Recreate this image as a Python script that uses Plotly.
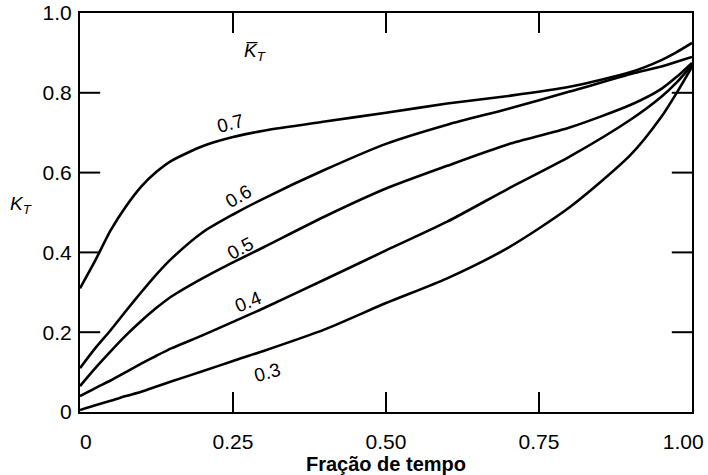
import plotly.graph_objects as go

# Fraction of time (abscissa) shared by every curve
fracao = [0, 0.025, 0.05, 0.075, 0.1, 0.125, 0.15, 0.2, 0.25, 0.3, 0.4, 0.5, 0.6, 0.7,
          0.8, 0.9, 0.95, 0.975, 1.0]

# Daily clearness index K_T for each monthly mean value of K̄_T
kt_07 = [0.31, 0.38, 0.455, 0.515, 0.565, 0.602, 0.63, 0.666, 0.689, 0.705, 0.728, 0.75,
         0.773, 0.792, 0.815, 0.852, 0.882, 0.902, 0.925]
kt_06 = [0.11, 0.16, 0.205, 0.253, 0.30, 0.345, 0.385, 0.45, 0.495, 0.535, 0.607, 0.672,
         0.72, 0.76, 0.803, 0.847, 0.866, 0.878, 0.89]
kt_05 = [0.065, 0.11, 0.152, 0.192, 0.228, 0.261, 0.29, 0.335, 0.375, 0.413, 0.49, 0.56,
         0.617, 0.671, 0.713, 0.77, 0.81, 0.84, 0.875]
kt_04 = [0.04, 0.06, 0.079, 0.10, 0.121, 0.141, 0.16, 0.192, 0.226, 0.26, 0.332, 0.405,
         0.477, 0.56, 0.64, 0.733, 0.79, 0.826, 0.87]
kt_03 = [0.005, 0.017, 0.028, 0.04, 0.051, 0.064, 0.077, 0.102, 0.128, 0.153, 0.207, 0.273,
         0.335, 0.412, 0.513, 0.645, 0.74, 0.80, 0.865]

curve_labels = ["0.7", "0.6", "0.5", "0.4", "0.3"]
label_x = [0.245, 0.258, 0.261, 0.276, 0.306]
label_y = [0.724, 0.541, 0.411, 0.276, 0.100]
label_angle = [-14, -30, -28, -22, -15]

x_ticks = [0, 0.25, 0.5, 0.75, 1.0]
# end labels are nudged inward so they stay inside the page
x_ticktext = ["\u00a0\u00a00", "0.25", "0.50", "0.75", "1.00\u00a0\u00a0\u00a0"]
y_ticks = [0, 0.2, 0.4, 0.6, 0.8, 1.0]
y_ticktext = ["0", "0.2", "0.4", "0.6", "0.8", "1.0"]

FONT = "Liberation Sans, Arial, sans-serif"
TICK_FRAC_X = 0.05    # inward tick length as a fraction of the plot height
TICK_FRAC_Y = 0.033   # inward tick length as a fraction of the plot width

fig = go.Figure()
for ys in [kt_07, kt_06, kt_05, kt_04, kt_03]:
    fig.add_trace(go.Scatter(
        x=fracao, y=ys, mode="lines",
        line=dict(color="black", width=2.6, shape="spline", smoothing=0.7),
        showlegend=False, hoverinfo="skip",
    ))

# inward tick marks on all four sides of the frame
tick_line = dict(color="black", width=2)
for v in x_ticks[1:-1]:
    fig.add_shape(type="line", xref="x", yref="y domain", x0=v, x1=v,
                  y0=0, y1=TICK_FRAC_X, line=tick_line, layer="above")
    fig.add_shape(type="line", xref="x", yref="y domain", x0=v, x1=v,
                  y0=1 - TICK_FRAC_X, y1=1, line=tick_line, layer="above")
for v in y_ticks[1:-1]:
    fig.add_shape(type="line", xref="x domain", yref="y", x0=0, x1=TICK_FRAC_Y,
                  y0=v, y1=v, line=tick_line, layer="above")
    fig.add_shape(type="line", xref="x domain", yref="y", x0=1 - TICK_FRAC_Y, x1=1,
                  y0=v, y1=v, line=tick_line, layer="above")

for txt, lx, ly, ang in zip(curve_labels, label_x, label_y, label_angle):
    fig.add_annotation(x=lx, y=ly, text=txt, showarrow=False, textangle=ang,
                       font=dict(family=FONT, size=19, color="black"))

# Legend heading K̄_T
fig.add_annotation(x=0.286, y=0.902, text="<i>K\u0305<sub>T</sub></i>", showarrow=False,
                   font=dict(family=FONT, size=19, color="black"))

# Vertical axis label K_T
fig.add_annotation(xref="paper", yref="paper", x=-0.118, y=0.52,
                   text="<i>K<sub>T</sub></i>", showarrow=False,
                   font=dict(family=FONT, size=19, color="black"))

axis_common = dict(
    range=[0, 1], showgrid=False, zeroline=False, showline=True,
    linecolor="black", linewidth=2, mirror=True, ticks="",
    tickfont=dict(family=FONT, size=21, color="black"),
    ticklabeloverflow="allow", automargin=False,
)

fig.update_layout(
    xaxis=dict(**axis_common, tickvals=x_ticks, ticktext=x_ticktext,
               ticklabelstandoff=10,
               title=dict(text="<b>Fração de tempo</b>", standoff=3,
                          font=dict(family=FONT, size=20, color="black"))),
    yaxis=dict(**axis_common, tickvals=y_ticks, ticktext=y_ticktext,
               ticklabelstandoff=2),
    width=708, height=475,
    margin=dict(l=80, r=16, t=13, b=63),
    plot_bgcolor="white", paper_bgcolor="white",
)

fig.write_html("out.html")
